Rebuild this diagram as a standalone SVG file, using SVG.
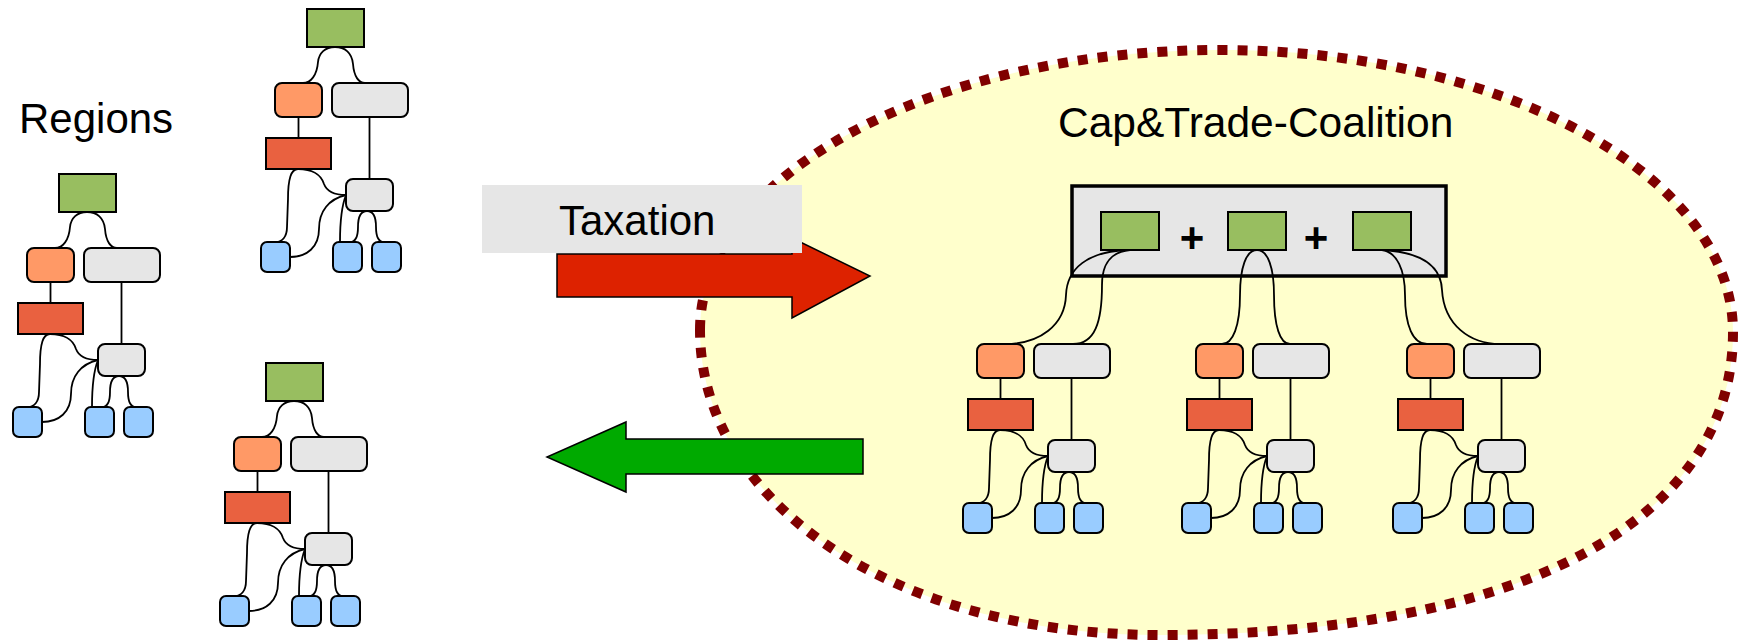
<svg xmlns="http://www.w3.org/2000/svg" xmlns:xlink="http://www.w3.org/1999/xlink" width="1748" height="642" viewBox="0 0 1748 642">
<style>
.n{stroke:#000;stroke-width:2}
.g{fill:#98BE60}
.o{fill:#FF9966}
.w{fill:#E6E6E6}
.r{fill:#E96140}
.b{fill:#99CCFF}
.c{fill:none;stroke:#000;stroke-width:1.8}
.t{font-family:"Liberation Sans",Arial,sans-serif;fill:#000}
</style>
<rect x="0" y="0" width="1748" height="642" fill="#fff"/>
<g id="coalition-area">
<path d="M700,330 C700,175 933,50 1220,50 C1503,50 1733,176 1733,332 C1733,522 1520,635 1160,635 C890,635 700,500 700,330 Z" fill="#FFFFCC" stroke="#800000" stroke-width="10" stroke-dasharray="10 10"/>
</g>
<g id="coalition-box">
<rect x="1072" y="186" width="374" height="90" fill="#E6E6E6" stroke="#000" stroke-width="3.5"/>
</g>
<g id="connectors">
<g transform="translate(59,174)">
<path class="c" d="M28,38 C18,38 12,44 11,53 C10,66 4,74 -4,74"/>
<path class="c" d="M28,38 C38,38 45,44 46,55 C47,68 52,74 58,74"/>
<path class="c" d="M-8.5,108 V129"/>
<path class="c" d="M62.5,108 V170"/>
<path class="c" d="M-9,160 C-16,160 -19,170 -19,190 L-20,218 C-20,228 -25,233 -31,233"/>
<path class="c" d="M-9,160 C4,160 14,165 17,175 C20,183 28,186 39,186"/>
<path class="c" d="M39,186 C22,190 12,202 12,220 C12,238 0,248 -17,248"/>
<path class="c" d="M39,186 C35,196 33,210 33,233"/>
<path class="c" d="M60,202 C54,202 51,208 51,218 C51,228 48,233 43,233"/>
<path class="c" d="M60,202 C66,202 69,208 69,218 C69,228 72,233 77,233"/>
</g>
<g transform="translate(307,9)">
<path class="c" d="M28,38 C18,38 12,44 11,53 C10,66 4,74 -4,74"/>
<path class="c" d="M28,38 C38,38 45,44 46,55 C47,68 52,74 58,74"/>
<path class="c" d="M-8.5,108 V129"/>
<path class="c" d="M62.5,108 V170"/>
<path class="c" d="M-9,160 C-16,160 -19,170 -19,190 L-20,218 C-20,228 -25,233 -31,233"/>
<path class="c" d="M-9,160 C4,160 14,165 17,175 C20,183 28,186 39,186"/>
<path class="c" d="M39,186 C22,190 12,202 12,220 C12,238 0,248 -17,248"/>
<path class="c" d="M39,186 C35,196 33,210 33,233"/>
<path class="c" d="M60,202 C54,202 51,208 51,218 C51,228 48,233 43,233"/>
<path class="c" d="M60,202 C66,202 69,208 69,218 C69,228 72,233 77,233"/>
</g>
<g transform="translate(266,363)">
<path class="c" d="M28,38 C18,38 12,44 11,53 C10,66 4,74 -4,74"/>
<path class="c" d="M28,38 C38,38 45,44 46,55 C47,68 52,74 58,74"/>
<path class="c" d="M-8.5,108 V129"/>
<path class="c" d="M62.5,108 V170"/>
<path class="c" d="M-9,160 C-16,160 -19,170 -19,190 L-20,218 C-20,228 -25,233 -31,233"/>
<path class="c" d="M-9,160 C4,160 14,165 17,175 C20,183 28,186 39,186"/>
<path class="c" d="M39,186 C22,190 12,202 12,220 C12,238 0,248 -17,248"/>
<path class="c" d="M39,186 C35,196 33,210 33,233"/>
<path class="c" d="M60,202 C54,202 51,208 51,218 C51,228 48,233 43,233"/>
<path class="c" d="M60,202 C66,202 69,208 69,218 C69,228 72,233 77,233"/>
</g>
<path class="c" d="M1126,250 C1088,252 1067,268 1066,295 C1065,325 1040,344 1005,344"/>
<path class="c" d="M1130,250 C1110,252 1102,264 1102,285 C1102,322 1095,344 1073,344"/>
<path class="c" d="M1257,250 C1246,250 1240,268 1240,295 C1240,326 1233,344 1222,344"/>
<path class="c" d="M1257,250 C1268,250 1274,268 1274,295 C1274,326 1280,344 1290,344"/>
<path class="c" d="M1382,250 C1397,252 1405,270 1405,295 C1405,326 1413,344 1427,344"/>
<path class="c" d="M1382,250 C1420,252 1441,265 1442,290 C1444,325 1470,344 1500,344"/>
<g transform="translate(1009,270)">
<path class="c" d="M-8.5,108 V129"/>
<path class="c" d="M62.5,108 V170"/>
<path class="c" d="M-9,160 C-16,160 -19,170 -19,190 L-20,218 C-20,228 -25,233 -31,233"/>
<path class="c" d="M-9,160 C4,160 14,165 17,175 C20,183 28,186 39,186"/>
<path class="c" d="M39,186 C22,190 12,202 12,220 C12,238 0,248 -17,248"/>
<path class="c" d="M39,186 C35,196 33,210 33,233"/>
<path class="c" d="M60,202 C54,202 51,208 51,218 C51,228 48,233 43,233"/>
<path class="c" d="M60,202 C66,202 69,208 69,218 C69,228 72,233 77,233"/>
</g>
<g transform="translate(1228,270)">
<path class="c" d="M-8.5,108 V129"/>
<path class="c" d="M62.5,108 V170"/>
<path class="c" d="M-9,160 C-16,160 -19,170 -19,190 L-20,218 C-20,228 -25,233 -31,233"/>
<path class="c" d="M-9,160 C4,160 14,165 17,175 C20,183 28,186 39,186"/>
<path class="c" d="M39,186 C22,190 12,202 12,220 C12,238 0,248 -17,248"/>
<path class="c" d="M39,186 C35,196 33,210 33,233"/>
<path class="c" d="M60,202 C54,202 51,208 51,218 C51,228 48,233 43,233"/>
<path class="c" d="M60,202 C66,202 69,208 69,218 C69,228 72,233 77,233"/>
</g>
<g transform="translate(1439,270)">
<path class="c" d="M-8.5,108 V129"/>
<path class="c" d="M62.5,108 V170"/>
<path class="c" d="M-9,160 C-16,160 -19,170 -19,190 L-20,218 C-20,228 -25,233 -31,233"/>
<path class="c" d="M-9,160 C4,160 14,165 17,175 C20,183 28,186 39,186"/>
<path class="c" d="M39,186 C22,190 12,202 12,220 C12,238 0,248 -17,248"/>
<path class="c" d="M39,186 C35,196 33,210 33,233"/>
<path class="c" d="M60,202 C54,202 51,208 51,218 C51,228 48,233 43,233"/>
<path class="c" d="M60,202 C66,202 69,208 69,218 C69,228 72,233 77,233"/>
</g>
</g>
<g id="tree1" transform="translate(59,174)">
<g id="t1-green"><rect class="n g" x="0" y="0" width="57" height="38"/></g>
<g id="t1-orange"><rect class="n o" x="-32" y="74" width="47" height="34" rx="7"/></g>
<g id="t1-grayw"><rect class="n w" x="25" y="74" width="76" height="34" rx="7"/></g>
<g id="t1-red"><rect class="n r" x="-41" y="129" width="65" height="31"/></g>
<g id="t1-grays"><rect class="n w" x="39" y="170" width="47" height="32" rx="7"/></g>
<g id="t1-blue1"><rect class="n b" x="-46" y="233" width="29" height="30" rx="6"/></g>
<g id="t1-blue2"><rect class="n b" x="26" y="233" width="29" height="30" rx="6"/></g>
<g id="t1-blue3"><rect class="n b" x="65" y="233" width="29" height="30" rx="6"/></g>
</g>
<g id="tree2" transform="translate(307,9)">
<g id="t2-green"><rect class="n g" x="0" y="0" width="57" height="38"/></g>
<g id="t2-orange"><rect class="n o" x="-32" y="74" width="47" height="34" rx="7"/></g>
<g id="t2-grayw"><rect class="n w" x="25" y="74" width="76" height="34" rx="7"/></g>
<g id="t2-red"><rect class="n r" x="-41" y="129" width="65" height="31"/></g>
<g id="t2-grays"><rect class="n w" x="39" y="170" width="47" height="32" rx="7"/></g>
<g id="t2-blue1"><rect class="n b" x="-46" y="233" width="29" height="30" rx="6"/></g>
<g id="t2-blue2"><rect class="n b" x="26" y="233" width="29" height="30" rx="6"/></g>
<g id="t2-blue3"><rect class="n b" x="65" y="233" width="29" height="30" rx="6"/></g>
</g>
<g id="tree3" transform="translate(266,363)">
<g id="t3-green"><rect class="n g" x="0" y="0" width="57" height="38"/></g>
<g id="t3-orange"><rect class="n o" x="-32" y="74" width="47" height="34" rx="7"/></g>
<g id="t3-grayw"><rect class="n w" x="25" y="74" width="76" height="34" rx="7"/></g>
<g id="t3-red"><rect class="n r" x="-41" y="129" width="65" height="31"/></g>
<g id="t3-grays"><rect class="n w" x="39" y="170" width="47" height="32" rx="7"/></g>
<g id="t3-blue1"><rect class="n b" x="-46" y="233" width="29" height="30" rx="6"/></g>
<g id="t3-blue2"><rect class="n b" x="26" y="233" width="29" height="30" rx="6"/></g>
<g id="t3-blue3"><rect class="n b" x="65" y="233" width="29" height="30" rx="6"/></g>
</g>
<g id="c-green1"><rect class="n g" x="1101" y="212" width="58" height="38"/></g>
<g id="c-green2"><rect class="n g" x="1228" y="212" width="58" height="38"/></g>
<g id="c-green3"><rect class="n g" x="1353" y="212" width="58" height="38"/></g>
<g id="c-plus">
<text class="t" x="1192" y="252" font-size="42" font-weight="bold" text-anchor="middle">+</text>
<text class="t" x="1316" y="252" font-size="42" font-weight="bold" text-anchor="middle">+</text>
</g>
<g id="ctree1" transform="translate(1009,270)">
<g id="c1-orange"><rect class="n o" x="-32" y="74" width="47" height="34" rx="7"/></g>
<g id="c1-grayw"><rect class="n w" x="25" y="74" width="76" height="34" rx="7"/></g>
<g id="c1-red"><rect class="n r" x="-41" y="129" width="65" height="31"/></g>
<g id="c1-grays"><rect class="n w" x="39" y="170" width="47" height="32" rx="7"/></g>
<g id="c1-blue1"><rect class="n b" x="-46" y="233" width="29" height="30" rx="6"/></g>
<g id="c1-blue2"><rect class="n b" x="26" y="233" width="29" height="30" rx="6"/></g>
<g id="c1-blue3"><rect class="n b" x="65" y="233" width="29" height="30" rx="6"/></g>
</g>
<g id="ctree2" transform="translate(1228,270)">
<g id="c2-orange"><rect class="n o" x="-32" y="74" width="47" height="34" rx="7"/></g>
<g id="c2-grayw"><rect class="n w" x="25" y="74" width="76" height="34" rx="7"/></g>
<g id="c2-red"><rect class="n r" x="-41" y="129" width="65" height="31"/></g>
<g id="c2-grays"><rect class="n w" x="39" y="170" width="47" height="32" rx="7"/></g>
<g id="c2-blue1"><rect class="n b" x="-46" y="233" width="29" height="30" rx="6"/></g>
<g id="c2-blue2"><rect class="n b" x="26" y="233" width="29" height="30" rx="6"/></g>
<g id="c2-blue3"><rect class="n b" x="65" y="233" width="29" height="30" rx="6"/></g>
</g>
<g id="ctree3" transform="translate(1439,270)">
<g id="c3-orange"><rect class="n o" x="-32" y="74" width="47" height="34" rx="7"/></g>
<g id="c3-grayw"><rect class="n w" x="25" y="74" width="76" height="34" rx="7"/></g>
<g id="c3-red"><rect class="n r" x="-41" y="129" width="65" height="31"/></g>
<g id="c3-grays"><rect class="n w" x="39" y="170" width="47" height="32" rx="7"/></g>
<g id="c3-blue1"><rect class="n b" x="-46" y="233" width="29" height="30" rx="6"/></g>
<g id="c3-blue2"><rect class="n b" x="26" y="233" width="29" height="30" rx="6"/></g>
<g id="c3-blue3"><rect class="n b" x="65" y="233" width="29" height="30" rx="6"/></g>
</g>
<g id="arrow-red">
<polygon points="557,254 792,254 792,238 870,276 792,318 792,297 557,297" fill="#DD2200" stroke="#000" stroke-width="1.5"/>
</g>
<g id="arrow-green">
<polygon points="863,439 626,439 626,422 547,457 626,492 626,474 863,474" fill="#00AA00" stroke="#000" stroke-width="1.5"/>
</g>
<g id="taxation">
<rect x="482" y="185" width="320" height="68" fill="#E6E6E6"/>
<text class="t" x="559" y="235" font-size="42">Taxation</text>
</g>
<g id="labels">
<text class="t" x="19" y="133" font-size="42">Regions</text>
<text class="t" x="1058" y="137" font-size="42.5">Cap&amp;Trade-Coalition</text>
</g>
</svg>
